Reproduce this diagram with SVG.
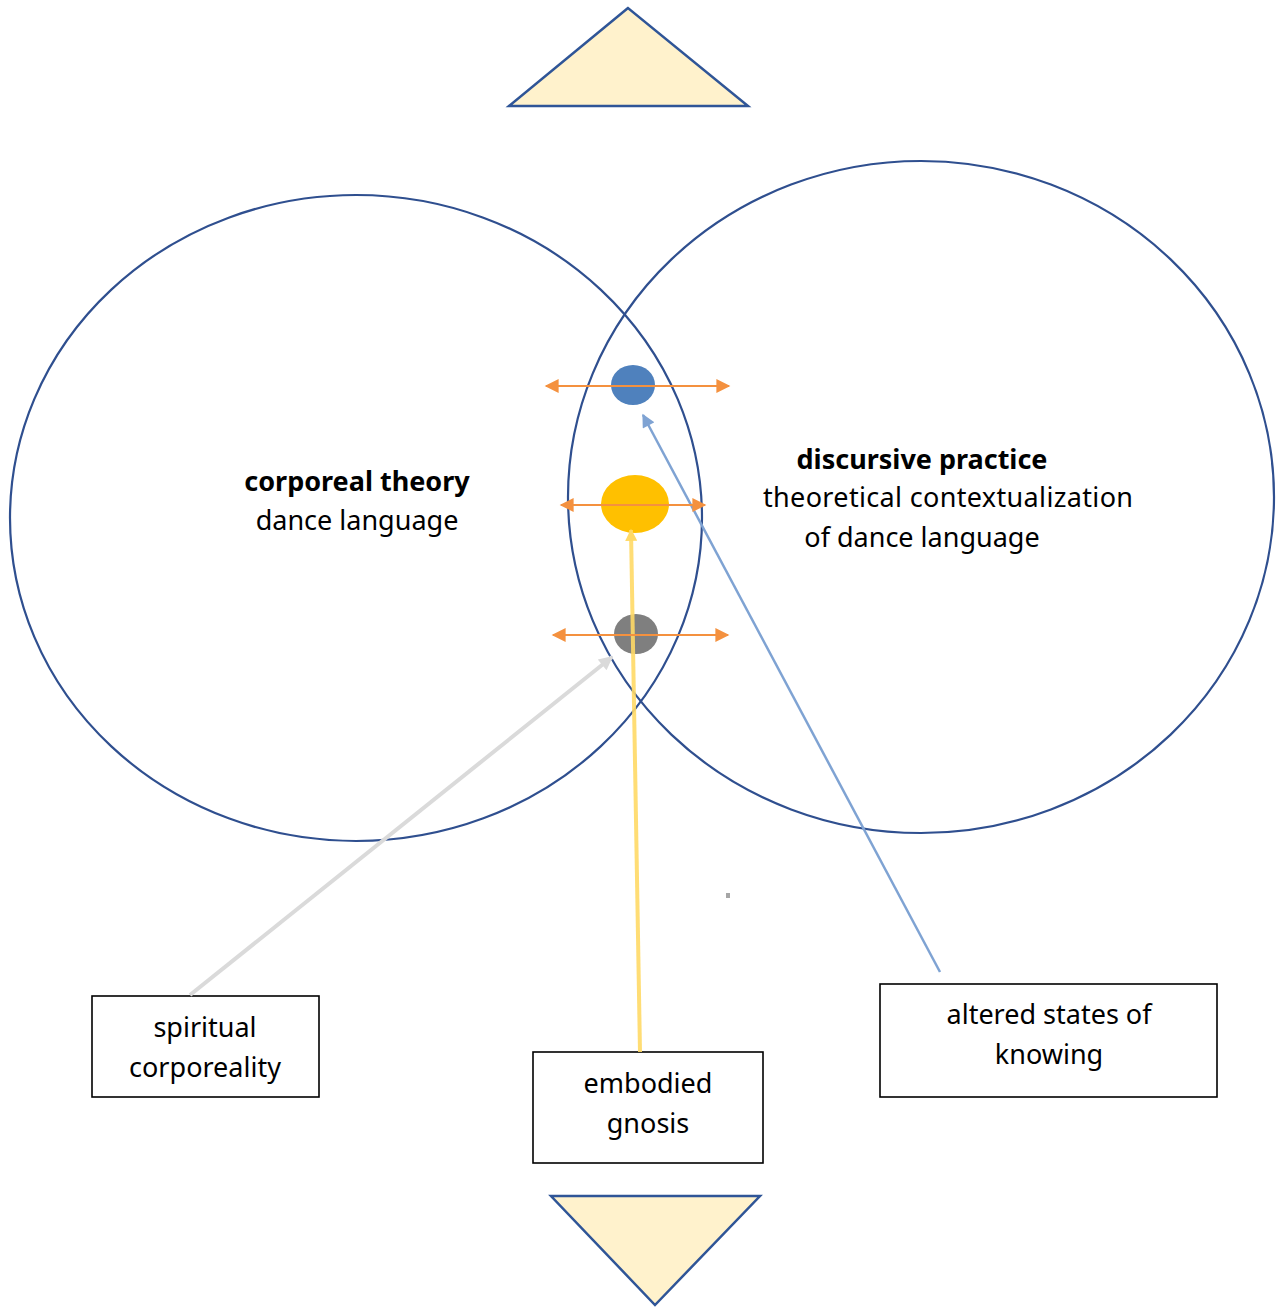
<svg xmlns="http://www.w3.org/2000/svg" width="1276" height="1308" viewBox="0 0 1276 1308">
<defs>
<style>
.ring{fill:none;stroke:#2F4F8F;stroke-width:2.2}
.tri{fill:#FFF2CC;stroke:#2F5597;stroke-width:2.5}
.box{fill:#fff;stroke:#000;stroke-width:1.6}
.t{font-family:"Noto Sans","Open Sans",sans-serif;font-size:27px;fill:#000;text-anchor:middle}
.b{font-weight:bold}
.oa{stroke:#F4913F;stroke-width:2.2;fill:none;marker-start:url(#oh);marker-end:url(#oh)}
</style>
<marker id="oh" viewBox="0 0 10 10" refX="9" refY="5" markerWidth="16" markerHeight="14" markerUnits="userSpaceOnUse" orient="auto-start-reverse"><path d="M0,0 L10,5 L0,10 z" fill="#F4913F"/></marker>
<marker id="yh" viewBox="0 0 10 10" refX="9" refY="5" markerWidth="14" markerHeight="12" markerUnits="userSpaceOnUse" orient="auto"><path d="M0,0 L10,5 L0,10 z" fill="#FFD966"/></marker>
<marker id="gh" viewBox="0 0 10 10" refX="9" refY="5" markerWidth="16" markerHeight="14" markerUnits="userSpaceOnUse" orient="auto"><path d="M0,0 L10,5 L0,10 z" fill="#DADADA"/></marker>
<marker id="bh" viewBox="0 0 10 10" refX="9" refY="5" markerWidth="15" markerHeight="13" markerUnits="userSpaceOnUse" orient="auto"><path d="M0,0 L10,5 L0,10 z" fill="#7FA3D3"/></marker>
</defs>
<rect width="1276" height="1308" fill="#fff"/>
<g id="triangle-top"><polygon class="tri" points="628,8 509,106 748,106"/></g>
<g id="triangle-bottom"><polygon class="tri" points="551,1196 760,1196 655,1305"/></g>
<g id="circle-corporeal"><ellipse class="ring" cx="356" cy="518" rx="346" ry="323"/>
<text class="t b" x="357" y="491">corporeal theory</text>
<text class="t" x="357" y="530">dance language</text></g>
<g id="circle-discursive"><ellipse class="ring" cx="921" cy="497" rx="353" ry="336"/>
<text class="t b" x="922" y="469">discursive practice</text>
<text class="t" x="948" y="507" textLength="370">theoretical contextualization</text>
<text class="t" x="922" y="547">of dance language</text></g>
<g id="dot-blue"><ellipse cx="633" cy="385" rx="22" ry="20" fill="#4F81BD"/></g>
<g id="dot-yellow"><ellipse cx="635" cy="504" rx="34" ry="29" fill="#FFC000"/></g>
<g id="dot-gray"><ellipse cx="636" cy="634" rx="22" ry="20" fill="#7F7F7F"/></g>
<g id="box-spiritual"><rect class="box" x="92" y="996" width="227" height="101"/>
<text class="t" x="205" y="1037">spiritual</text>
<text class="t" x="205" y="1077">corporeality</text></g>
<g id="box-embodied"><rect class="box" x="533" y="1052" width="230" height="111"/>
<text class="t" x="648" y="1093">embodied</text>
<text class="t" x="648" y="1133">gnosis</text></g>
<g id="box-altered"><rect class="box" x="880" y="984" width="337" height="113"/>
<text class="t" x="1049" y="1024">altered states of</text>
<text class="t" x="1049" y="1064">knowing</text></g>
<g id="connectors">
<line x1="190" y1="995" x2="612" y2="657" stroke="#DADADA" stroke-width="4" marker-end="url(#gh)"/>
<line x1="640" y1="1052" x2="631" y2="530" stroke="#FFD966" stroke-width="4" stroke-opacity="0.9" marker-end="url(#yh)"/>
<line x1="940" y1="972" x2="643" y2="415" stroke="#7FA3D3" stroke-width="2.5" marker-end="url(#bh)"/>
<line class="oa" x1="546" y1="386" x2="729" y2="386"/>
<line class="oa" x1="561" y1="505" x2="705" y2="505"/>
<line class="oa" x1="553" y1="635" x2="728" y2="635"/>
</g>
<rect x="726" y="893" width="4" height="5" fill="#A6A6A6"/>
</svg>
